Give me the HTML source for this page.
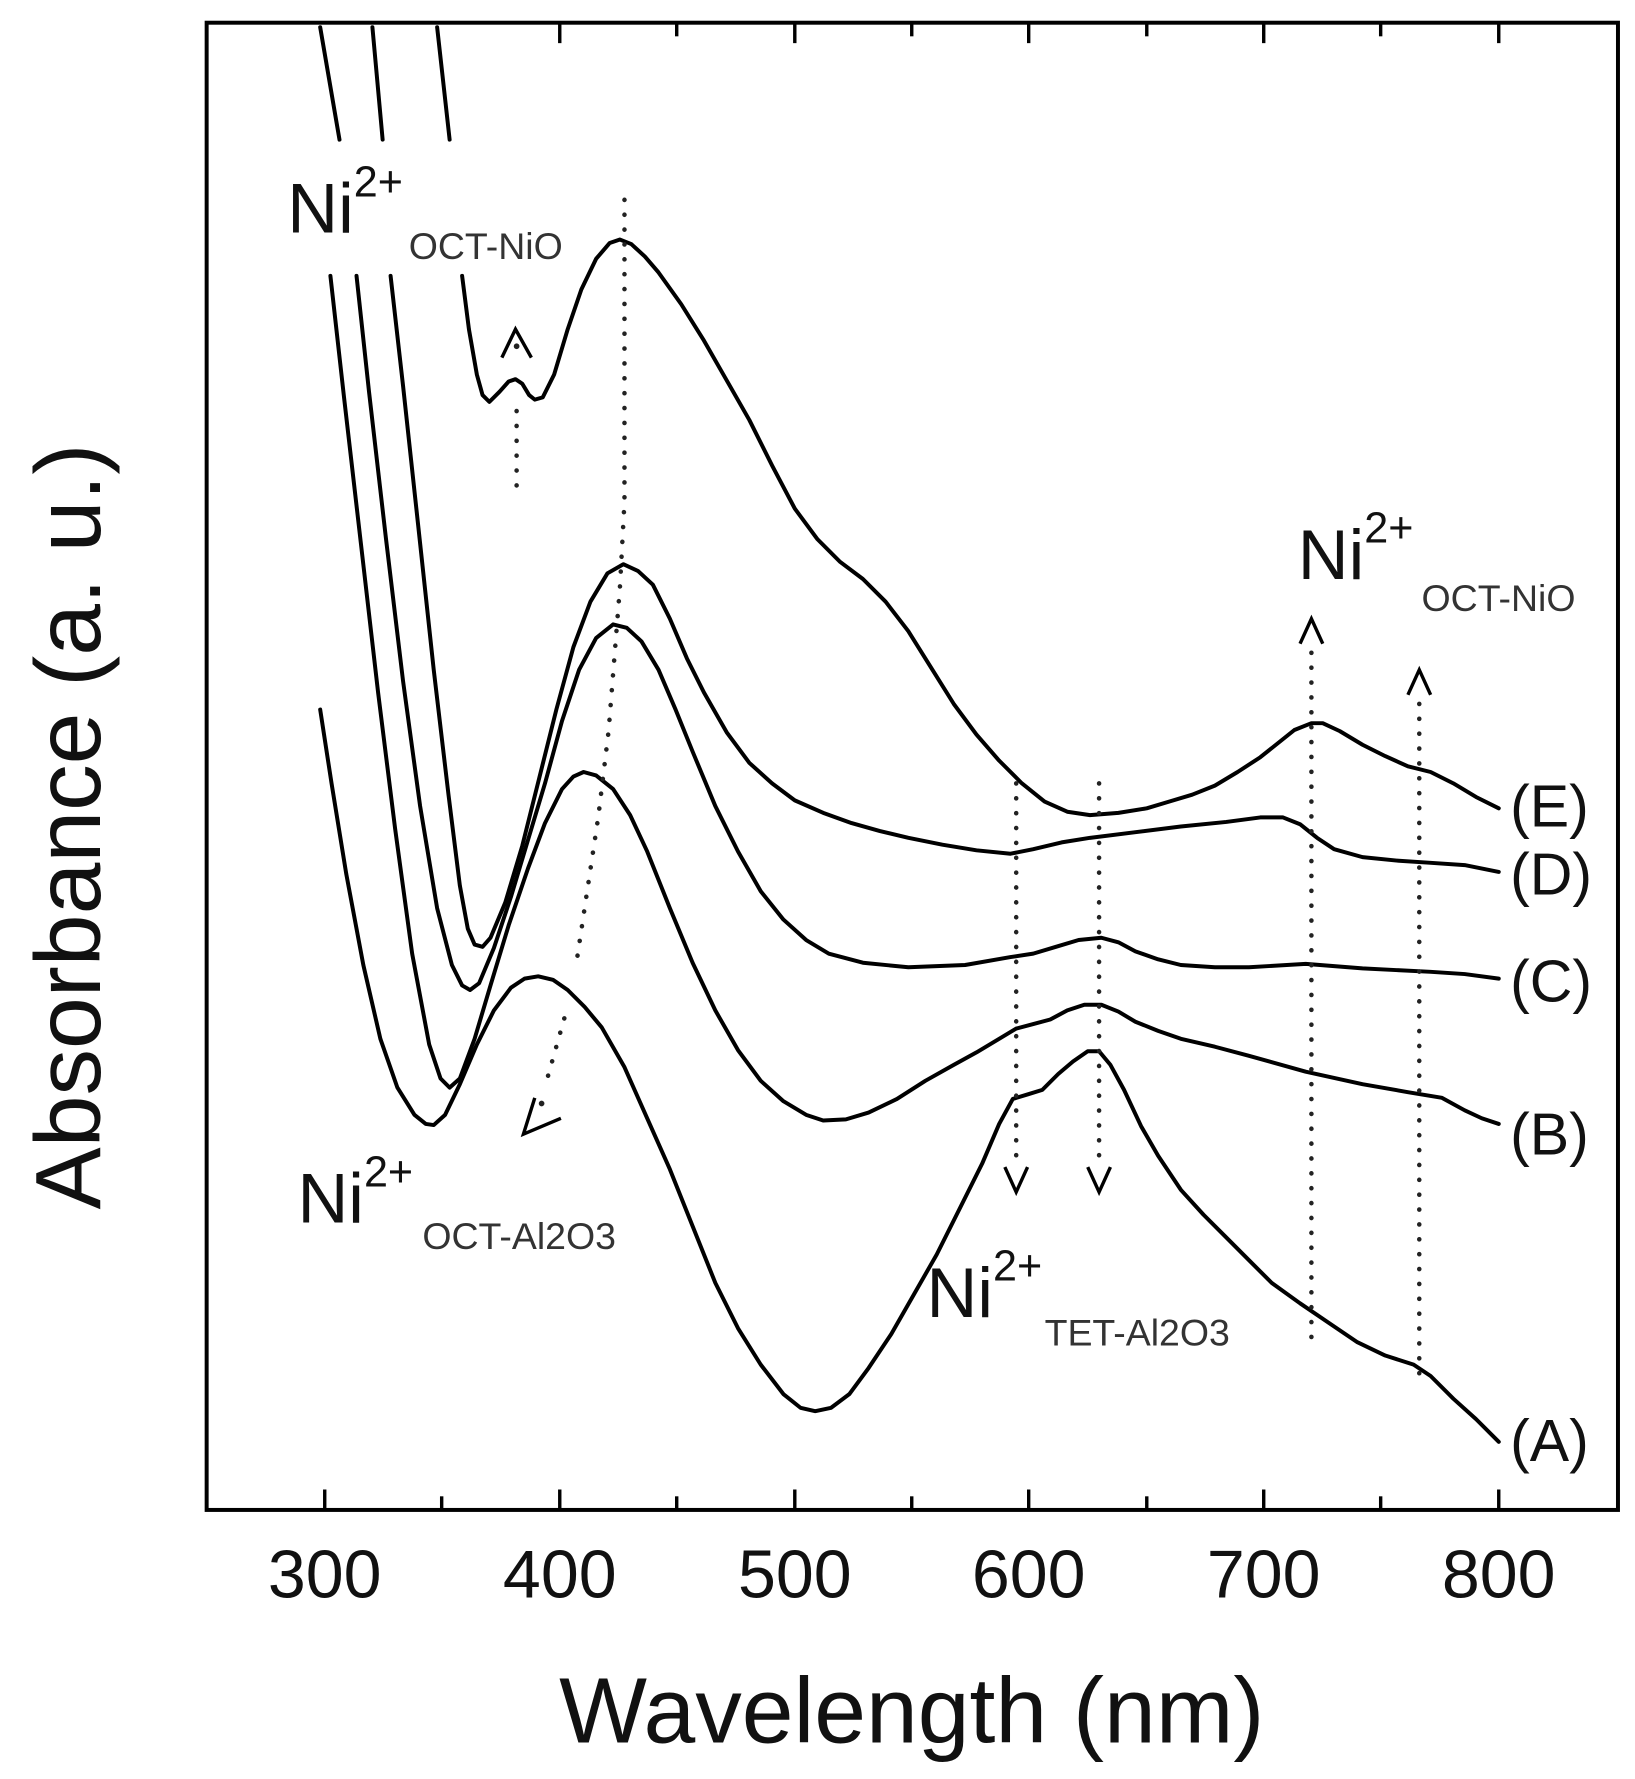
<!DOCTYPE html>
<html><head><meta charset="utf-8"><style>
html,body{margin:0;padding:0;background:#fff}
svg{display:block}
text{font-family:"Liberation Sans",Arial,sans-serif;fill:#111}
</style></head><body>
<svg width="1635" height="1779" viewBox="0 0 1440 1567" preserveAspectRatio="none" xmlns="http://www.w3.org/2000/svg">
<rect x="182" y="20" width="1243" height="1310" fill="none" stroke="#000" stroke-width="3.5"/>
<g stroke="#000" stroke-width="3">
<line x1="286" y1="1330" x2="286" y2="1312"/><line x1="493" y1="1330" x2="493" y2="1312"/><line x1="700" y1="1330" x2="700" y2="1312"/><line x1="906" y1="1330" x2="906" y2="1312"/><line x1="1113" y1="1330" x2="1113" y2="1312"/><line x1="1320" y1="1330" x2="1320" y2="1312"/>
<line x1="389" y1="1330" x2="389" y2="1318"/><line x1="596" y1="1330" x2="596" y2="1318"/><line x1="803" y1="1330" x2="803" y2="1318"/><line x1="1010" y1="1330" x2="1010" y2="1318"/><line x1="1216" y1="1330" x2="1216" y2="1318"/>
<line x1="493" y1="20" x2="493" y2="38"/><line x1="700" y1="20" x2="700" y2="38"/><line x1="906" y1="20" x2="906" y2="38"/><line x1="1113" y1="20" x2="1113" y2="38"/><line x1="1320" y1="20" x2="1320" y2="38"/>
<line x1="596" y1="20" x2="596" y2="32"/><line x1="803" y1="20" x2="803" y2="32"/><line x1="1010" y1="20" x2="1010" y2="32"/><line x1="1216" y1="20" x2="1216" y2="32"/>
</g>
<g font-size="60" text-anchor="middle">
<text x="286" y="1407">300</text><text x="493" y="1407">400</text><text x="700" y="1407">500</text><text x="906" y="1407">600</text><text x="1113" y="1407">700</text><text x="1320" y="1407">800</text>
</g>
<text x="803" y="1535" font-size="82" text-anchor="middle">Wavelength (nm)</text>
<text transform="translate(88,728) rotate(-90)" font-size="82" text-anchor="middle">Absorbance (a. u.)</text>

<g fill="none" stroke="#000" stroke-width="3.5" stroke-linejoin="round" stroke-linecap="round">
<line x1="282" y1="24" x2="299" y2="123"/><line x1="328" y1="24" x2="337" y2="123"/><line x1="385" y1="24" x2="396" y2="123"/>
<polyline points="407,243 413,290 420,330 425,348 431,354 440,345 448,336 454,334 460,338 466,348 471,352 478,350 488,330 500,290 512,255 525,228 537,214 546,211 556,215 568,226 580,240 600,268 620,300 640,335 660,370 680,410 700,448 720,475 740,495 760,510 780,530 800,556 820,588 840,620 860,647 880,670 900,690 920,706 940,715 960,718 985,716 1010,712 1030,706 1050,700 1070,692 1090,680 1110,667 1125,655 1140,643 1155,637 1165,637 1180,644 1200,656 1220,666 1240,675 1260,680 1280,690 1300,702 1320,712"/>
<polyline points="344,243 355,340 368,460 382,590 395,700 405,780 412,818 418,832 425,834 432,826 445,795 460,745 475,685 490,625 505,570 520,530 535,505 549,497 562,503 575,515 590,545 605,580 620,610 640,645 660,672 680,690 700,705 725,716 750,725 775,732 800,738 830,744 860,749 890,752 910,748 935,742 960,738 1000,733 1040,728 1080,724 1110,720 1130,720 1145,726 1160,738 1175,748 1200,755 1230,758 1260,760 1290,762 1320,768"/>
<polyline points="314,243 325,345 340,475 355,600 370,710 385,800 398,850 407,868 414,872 422,866 435,835 450,790 465,740 480,690 495,635 510,590 525,562 540,550 552,553 565,565 580,590 595,625 610,662 630,710 650,750 670,785 690,810 710,828 730,840 760,848 800,852 850,850 890,843 910,840 930,834 950,828 970,826 985,830 1000,838 1020,845 1040,850 1070,852 1100,852 1150,849 1200,853 1260,856 1290,858 1320,862"/>
<polyline points="291,243 303,350 318,480 333,610 348,730 363,840 378,920 388,950 396,958 405,950 418,915 432,868 448,815 465,765 480,725 495,695 505,684 514,680 525,683 540,695 555,718 570,750 590,800 610,848 630,890 650,925 670,952 690,970 710,982 725,987 745,986 765,980 790,968 815,952 840,938 860,927 880,915 895,906 910,902 925,898 940,890 955,885 970,885 985,891 1000,900 1020,908 1040,915 1070,922 1100,930 1150,944 1200,955 1240,962 1270,967 1290,978 1305,985 1320,990"/>
<polyline points="282,625 292,690 305,770 320,850 335,915 350,958 365,982 375,990 382,991 392,982 405,955 420,920 435,890 450,870 462,862 474,860 487,863 500,872 515,887 530,905 550,940 570,985 590,1030 610,1080 630,1130 650,1170 670,1202 690,1228 705,1240 718,1243 732,1240 748,1228 765,1205 785,1175 805,1140 825,1105 845,1065 865,1025 880,990 892,968 905,964 918,960 932,946 945,935 958,926 968,926 978,938 990,960 1005,992 1020,1018 1040,1048 1060,1070 1080,1090 1100,1110 1120,1130 1145,1148 1170,1165 1195,1182 1220,1194 1245,1202 1260,1212 1280,1232 1300,1250 1320,1270"/>
</g>

<g fill="none" stroke="#222" stroke-width="4" stroke-dasharray="0.1 13" stroke-linecap="round">
<line x1="455" y1="362" x2="455" y2="440"/>
<polyline points="550,176 550,442 546,517 536,644 527,719 508,846"/>
<line x1="497" y1="897" x2="482" y2="950"/>
<line x1="895" y1="690" x2="895" y2="1030"/>
<line x1="968" y1="690" x2="968" y2="1030"/>
<line x1="1155" y1="575" x2="1155" y2="1180"/>
<line x1="1250" y1="620" x2="1250" y2="1215"/>
</g>
<g fill="none" stroke="#000" stroke-width="3" stroke-linejoin="miter">
<polyline points="442,315 454,290 468,315"/>
<polyline points="471,967 461,999 494,985"/>
<polyline points="885,1028 895,1050 905,1028"/>
<polyline points="958,1028 968,1050 978,1028"/>
<polyline points="1145,567 1155,545 1165,567"/>
<polyline points="1240,612 1250,590 1260,612"/>
</g>
<g fill="#222"><circle cx="455" cy="305" r="2.5"/><circle cx="477" cy="972" r="2.5"/></g>

<g font-size="62">
<text x="253" y="205">Ni<tspan font-size="38" dy="-32">2+</tspan></text>
<text x="262" y="1077">Ni<tspan font-size="38" dy="-32">2+</tspan></text>
<text x="816" y="1160">Ni<tspan font-size="38" dy="-32">2+</tspan></text>
<text x="1143" y="510">Ni<tspan font-size="38" dy="-32">2+</tspan></text>
</g>
<g font-size="33">
<text x="360" y="228" style="fill:#333">OCT-NiO</text>
<text x="372" y="1100" style="fill:#333">OCT-Al2O3</text>
<text x="920" y="1185" style="fill:#333">TET-Al2O3</text>
<text x="1252" y="538" style="fill:#333">OCT-NiO</text>
</g>
<g font-size="52">
<text x="1330" y="728">(E)</text>
<text x="1330" y="788">(D)</text>
<text x="1330" y="882">(C)</text>
<text x="1330" y="1017">(B)</text>
<text x="1330" y="1287">(A)</text>
</g>
</svg>
</body></html>
